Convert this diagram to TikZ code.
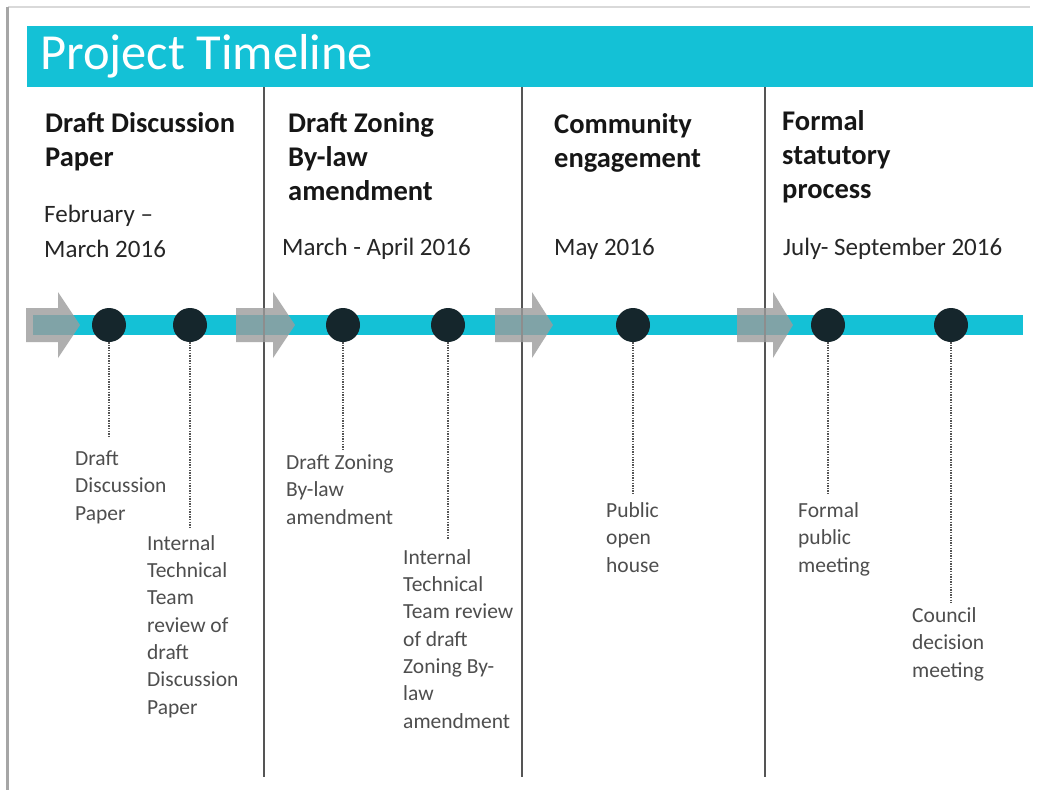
\documentclass[tikz,border=0pt]{standalone}
\usepackage{fontspec}
\setmainfont{Carlito}
\definecolor{tlcyan}{HTML}{14C1D6}
\definecolor{tldark}{HTML}{15262C}
\definecolor{tlarrowgray}{HTML}{9C9C9C}
\definecolor{tllabel}{HTML}{4E4E4E}
\definecolor{tlhead}{HTML}{161616}
\definecolor{tldiv}{HTML}{555555}
\newcommand\tlarrow[3]{%
  \fill[arrowshape] (#1,308) -- (#2,308) -- (#2,292) -- (#3,325) -- (#2,358) -- (#2,342) -- (#1,342) -- cycle;}
\begin{document}
\begin{tikzpicture}[x=1pt,y=-1pt,
  heading/.style={anchor=base west,inner sep=0pt,align=left,text=tlhead,font=\bfseries\fontsize{28.5}{34}\selectfont},
  datetext/.style={anchor=base west,inner sep=0pt,align=left,text=black!85,font=\fontsize{25}{34}\selectfont},
  milelabel/.style={anchor=base west,inner sep=0pt,align=left,text=tllabel,font=\fontsize{21.5}{27.3}\selectfont},
  milestone/.style={circle,fill=tldark,minimum size=34pt,inner sep=0pt},
  leader/.style={draw=tldiv,line width=1.8pt,dash pattern=on 1.4pt off 1.2pt},
  divider/.style={draw=tldiv,line width=1.2pt},
  arrowshape/.style={fill=tlarrowgray,fill opacity=0.8}]
\useasboundingbox (0,0) rectangle (1039,790);
\fill[white] (0,0) rectangle (1039,790);
% page frame
\draw[black!15,line width=1.5pt] (8,7) -- (1030,7);
\draw[black!35,line width=3pt] (7,7) -- (7,790);
% title bar
\fill[tlcyan] (27,26) rectangle (1033,87);
\node[anchor=base west,inner sep=0pt,text=white,font=\fontsize{50.5}{60}\selectfont] (title) at (40,69) {Project Timeline};
% headings (anchor = baseline of last line)
\node[heading] (h1) at (45,166) {Draft Discussion\\Paper};
\node[heading] (h2) at (288,200) {Draft Zoning\\By-law\\amendment};
\node[heading] (h3) at (554,167) {Community\\engagement};
\node[heading] (h4) at (782,198) {Formal\\statutory\\process};
% dates
\node[datetext,font=\fontsize{25}{35}\selectfont] (d1) at (44,257) {February –\\March 2016};
\node[datetext] (d2) at (282,255) {March - April 2016};
\node[datetext] (d3) at (554,255) {May 2016};
\node[datetext] (d4) at (783,255) {July- September 2016};
% timeline bar
\fill[tlcyan] (33,315) rectangle (1023,335);
% milestones
\node[milestone] (m1) at (109,325) {};
\node[milestone] (m2) at (190,325) {};
\node[milestone] (m3) at (343,325) {};
\node[milestone] (m4) at (448,325) {};
\node[milestone] (m5) at (633,325) {};
\node[milestone] (m6) at (828,325) {};
\node[milestone] (m7) at (951,325) {};
% dividers
\draw[divider] (264,87) -- (264,777);
\draw[divider] (522,87) -- (522,777);
\draw[divider] (765,87) -- (765,777);
% arrows
\tlarrow{26}{58}{80}
\tlarrow{236}{273}{295}
\tlarrow{495}{532}{553}
\tlarrow{737}{773}{793}
% leader ends
\coordinate (e1) at (109,438);
\coordinate (e2) at (190,527);
\coordinate (e3) at (343,451);
\coordinate (e4) at (448,539);
\coordinate (e5) at (633,495);
\coordinate (e6) at (828,495);
\coordinate (e7) at (951,603);
\foreach \i in {1,...,7} {\draw[leader] (m\i.south) -- (e\i);}
% labels (anchor = baseline of last line)
\node[milelabel] (l1) at (75,520) {Draft\\Discussion\\Paper};
\node[milelabel] (l2) at (147,714) {Internal\\Technical\\Team\\review of\\draft\\Discussion\\Paper};
\node[milelabel] (l3) at (286,524) {Draft Zoning\\By-law\\amendment};
\node[milelabel] (l4) at (403,728) {Internal\\Technical\\Team review\\of draft\\Zoning By-\\law\\amendment};
\node[milelabel] (l5) at (606,572) {Public\\open\\house};
\node[milelabel] (l6) at (798,572) {Formal\\public\\meeting};
\node[milelabel] (l7) at (912,677) {Council\\decision\\meeting};
\end{tikzpicture}
\end{document}
